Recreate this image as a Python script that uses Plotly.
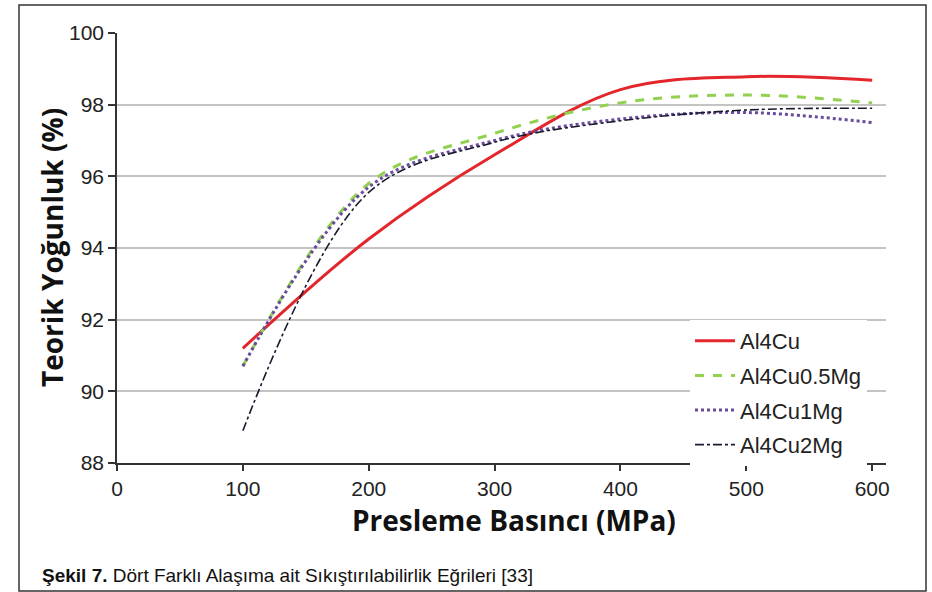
import plotly.graph_objects as go

pressure = [100, 200, 300, 400, 500, 600]
al4cu = [91.2, 94.25, 96.6, 98.42, 98.78, 98.68]
al4cu05mg = [90.7, 95.8, 97.2, 98.05, 98.27, 98.05]
al4cu1mg = [90.7, 95.7, 97.0, 97.6, 97.78, 97.5]
al4cu2mg = [88.9, 95.55, 96.95, 97.55, 97.85, 97.9]

x_ticks = [0, 100, 200, 300, 400, 500, 600]
y_ticks = [88, 90, 92, 94, 96, 98, 100]

W, H = 932, 592
L, R, T, B = 117, 46, 33, 129
pw, ph = W - L - R, H - T - B


def px(xp):
    return (xp - L) / pw


def py(yp):
    return (H - B - yp) / ph


series = [
    ("Al4Cu", al4cu, dict(color="#e3262b", width=3, dash="solid")),
    ("Al4Cu0.5Mg", al4cu05mg, dict(color="#92d050", width=3, dash="dash")),
    ("Al4Cu1Mg", al4cu1mg, dict(color="#6a4c9c", width=3, dash="dot")),
    ("Al4Cu2Mg", al4cu2mg, dict(color="#1a1a2e", width=1.6, dash="dashdot")),
]

fig = go.Figure()
for i, (name, ys, ln) in enumerate(series):
    fig.add_trace(go.Scatter(
        x=pressure, y=ys, name=name, mode="lines",
        line=dict(shape="spline", smoothing=1.0, **ln),
        legendgroup=f"g{i}",
    ))

tick_font = dict(family="Liberation Sans, Arial, sans-serif", size=21, color="#222")

fig.update_layout(
    width=W, height=H,
    margin=dict(l=L, r=R, t=T, b=B),
    paper_bgcolor="white", plot_bgcolor="white",
    showlegend=True,
    legend=dict(
        x=px(690), y=py(320), xanchor="left", yanchor="top",
        bgcolor="white", borderwidth=0,
        font=dict(family="Liberation Sans, Arial, sans-serif", size=22, color="#222"),
        tracegroupgap=3, itemwidth=40,
    ),
    xaxis=dict(
        range=[0, 611], tickvals=x_ticks, ticktext=[str(v) for v in x_ticks],
        showgrid=False, zeroline=False,
        showline=True, linecolor="#333", linewidth=1.5,
        ticks="outside", ticklen=6, tickcolor="#333", tickwidth=1.5,
        tickfont=tick_font,
    ),
    yaxis=dict(
        range=[88, 100], tickvals=y_ticks, ticktext=[str(v) for v in y_ticks],
        showgrid=True, gridcolor="#c4c4c4", gridwidth=1.5,
        zeroline=False,
        showline=True, linecolor="#333", linewidth=1.5,
        ticks="outside", ticklen=7, tickcolor="#333", tickwidth=1.5,
        tickfont=tick_font,
    ),
)

title_font = dict(family="Open Sans, Lato, sans-serif", size=28, color="#111")
fig.add_annotation(
    x=px(514), y=py(520), xref="paper", yref="paper",
    text="<b>Presleme Basıncı (MPa)</b>", showarrow=False,
    font=title_font, xanchor="center", yanchor="middle",
)
fig.add_annotation(
    x=px(52), y=py(248), xref="paper", yref="paper",
    text="<b>Teorik Yoğunluk (%)</b>", showarrow=False, textangle=-90,
    font=title_font, xanchor="center", yanchor="middle",
)
fig.add_annotation(
    x=px(40), y=py(575), xref="paper", yref="paper",
    text="<b>Şekil 7.</b> Dört Farklı Alaşıma ait Sıkıştırılabilirlik Eğrileri [33]",
    showarrow=False, xanchor="left", yanchor="middle",
    font=dict(family="Liberation Sans Narrow, Arial Narrow, Liberation Sans, sans-serif",
              size=19, color="#111"),
)
fig.add_shape(
    type="rect", xref="paper", yref="paper",
    x0=px(19), x1=px(926), y0=py(591), y1=py(5),
    line=dict(color="#333", width=1.5), fillcolor="rgba(0,0,0,0)", layer="below",
)

fig.write_html("out.html",
               config={"displayModeBar": False},
               post_script="document.body.style.margin='0px';document.body.style.overflow='hidden';")
